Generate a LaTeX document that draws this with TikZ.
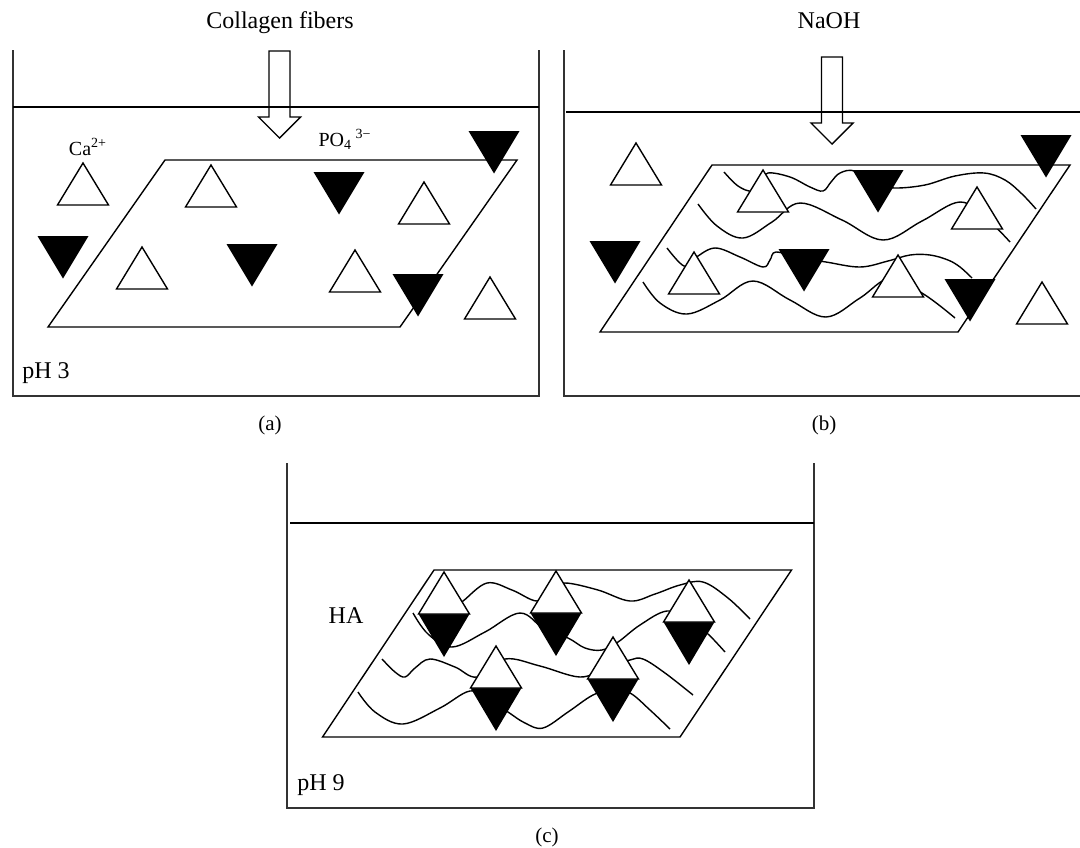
\documentclass[tikz,border=0pt]{standalone}
\usepackage{fontspec}
\setmainfont{Liberation Serif}

\tikzstyle{beaker} = [draw, line width=0.8pt, black!80]
\tikzstyle{surface} = [draw, line width=0.7pt]
\tikzstyle{membrane} = [draw, line width=0.7pt]
\tikzstyle{fiber} = [draw, line width=0.7pt]
\tikzstyle{inflow} = [draw, line width=0.7pt]
\tikzstyle{calcium} = [draw, fill=white, line width=0.7pt]
\tikzstyle{phosphate} = [fill=black]
\tikzstyle{label} = [inner sep=0pt, font=\fontsize{12}{14}\selectfont]
\tikzstyle{ion label} = [inner sep=0pt, font=\fontsize{10}{12}\selectfont]
\tikzstyle{caption} = [inner sep=0pt, font=\fontsize{10.5}{12}\selectfont]

% ions: apex of the open ones, top middle of the black ones
\def\calciumA{83/163, 211/165, 424/182, 142/247, 355/250, 490/277}
\def\phosphateA{494/131, 339/172, 63/236, 252/244, 418/274}
\def\calciumB{636/143, 763/170, 977/187, 694/252, 898/255, 1042/282}
\def\phosphateB{1046/135, 878/170, 615/241, 804/249, 970/279}
\def\crystals{444/614, 556/613, 689/622, 496/688, 613/679}

\begin{document}
\begin{tikzpicture}[x=0.5pt, y=-0.5pt]
    \useasboundingbox (0,0) rectangle (1080,847);

    % The three beakers and the liquid level
    \draw[beaker] (12.7,50) -- (12.7,396) -- (539,396) -- (539,50);
    \draw[beaker] (564,50) -- (564,396) -- (1080,396);
    \draw[beaker] (287,463) -- (287,808) -- (814,808) -- (814,463);
    \foreach \from/\to/\level in {13/539/107, 566/1080/112, 290/814/523}
      \path[surface] (\from,\level) -- (\to,\level);

    % The sheets, from the lower left corner
    \foreach \x/\y/\s/\w in {48/327/117/352, 600/332/112/358, 322.5/737/111.5/357.5}
      \path[membrane] (\x,\y) -- ++(\s,-167) -- ++(\w,0) -- ++(-\s,167) -- cycle;

    % What is poured in
    \node[label] (collagen) at (280,23) {Collagen fibers};
    \node[label] (naoh) at (829,21) {NaOH};
    \foreach \x/\y in {279.5/138, 832/144}
      \path[inflow] (\x,\y) -- ++(-21,-21) -- ++(10.5,0) -- ++(0,-66)
        -- ++(21,0) -- ++(0,66) -- ++(10.5,0) -- cycle;

    % The fibers in (b)
    \draw[fiber] plot[smooth, tension=0.6] coordinates {(724,172) (738,186) (752,191)
      (762,182) (768,173) (790,177) (810,187) (823,191) (831,182) (840,173) (855,171)
      (880,184) (895,188) (925,185) (955,176) (984,173) (1005,180) (1022,194) (1036,209)};
    \draw[fiber] plot[smooth, tension=0.6] coordinates {(698,204) (717,226) (743,238)
      (772,222) (800,203) (842,220) (883,240) (922,221) (960,202) (987,219) (1010,242)};
    \draw[fiber] plot[smooth, tension=0.6] coordinates {(667,248) (684,266) (695,258)
      (715,248) (740,257) (763,267) (770,260) (776,252) (800,258) (826,262) (860,267)
      (888,261) (910,255) (930,255) (948,260) (960,267) (972,278)};
    \draw[fiber] plot[smooth, tension=0.6] coordinates {(643,282) (660,303) (687,314)
      (720,300) (753,281) (790,300) (826,317) (860,298) (891,278) (925,295) (955,318)};

    % The fibers in (c)
    \draw[fiber] plot[smooth, tension=0.6] coordinates {(452,608) (463,601) (487,583)
      (512,590) (537,601) (552,590) (565,583) (598,590) (630,601) (655,594) (680,585)
      (703,582) (728,598) (750,619)};
    \draw[fiber] plot[smooth, tension=0.6] coordinates {(413,613) (428,634) (452,647)
      (485,632) (520,613) (545,630) (568,638) (585,648) (602,650) (618,642) (640,625)
      (667,611) (690,620) (708,634) (725,652)};
    \draw[fiber] plot[smooth, tension=0.6] coordinates {(382,659) (395,672) (405,677)
      (415,668) (430,659) (455,667) (477,677) (505,659) (540,666) (580,677) (605,668)
      (630,660) (643,659) (665,673) (693,695)};
    \draw[fiber] plot[smooth, tension=0.6] coordinates {(358,692) (375,712) (403,724)
      (440,708) (470,691) (490,700) (508,712) (525,723) (543,728) (568,712) (593,695)
      (612,690) (630,693) (650,710) (670,729)};

    % The ions in solution
    \foreach \x/\y in \calciumA
      \draw[calcium] (\x,\y) -- ++(-25.5,42) -- ++(51,0) -- cycle;
    \foreach \x/\y in \calciumB
      \draw[calcium] (\x,\y) -- ++(-25.5,42) -- ++(51,0) -- cycle;
    \foreach \x/\y in \phosphateA
      \fill[phosphate] (\x-25.5,\y) -- ++(51,0) -- ++(-25.5,42.5) -- cycle;
    \foreach \x/\y in \phosphateB
      \fill[phosphate] (\x-25.5,\y) -- ++(51,0) -- ++(-25.5,42.5) -- cycle;

    % The pairs that make HA
    \foreach \x/\y in \crystals {
      \fill[phosphate] (\x-25.5,\y) -- ++(51,0) -- ++(-25.5,43) -- cycle;
      \draw[calcium] (\x,\y-42) -- ++(-25.5,42) -- ++(51,0) -- cycle;
    }

    % Labels
    \node[ion label, anchor=base] (ca) at (88,155) {Ca\textsuperscript{2+}};
    \node[ion label, anchor=base] (po) at (345,146) {PO\textsubscript{4}\,\textsuperscript{3−}};
    \node[label, anchor=base] (ha) at (346,623) {HA};
    \node[label, anchor=base west] (ph3) at (22,378) {pH 3};
    \node[label, anchor=base west] (ph9) at (297,790) {pH 9};
    \foreach \x/\y/\name in {270/425/a, 824/425/b, 547/837/c}
      \node[caption] (cap \name) at (\x,\y) {(\name)};
\end{tikzpicture}
\end{document}
